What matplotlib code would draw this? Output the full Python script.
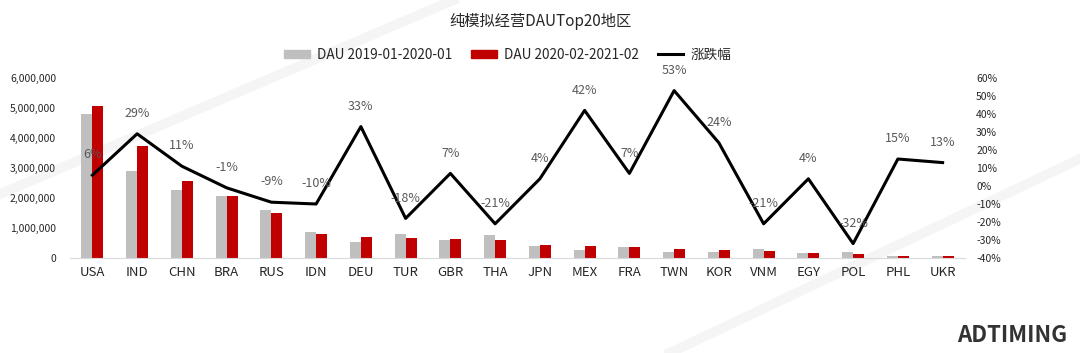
import matplotlib
matplotlib.use("Agg")
from matplotlib import pyplot as plt
from matplotlib.lines import Line2D
from matplotlib.patches import Patch
from matplotlib.ticker import FuncFormatter, MultipleLocator
import numpy as np

plt.rcParams['font.family'] = ['Noto Sans CJK SC', 'DejaVu Sans']

regions = ["USA", "IND", "CHN", "BRA", "RUS", "IDN", "DEU", "TUR", "GBR", "THA",
           "JPN", "MEX", "FRA", "TWN", "KOR", "VNM", "EGY", "POL", "PHL", "UKR"]
dau_prev = [4800000, 2890000, 2280000, 2080000, 1610000, 880000, 520000, 810000, 600000, 780000,
            400000, 270000, 360000, 200000, 200000, 300000, 170000, 190000, 70000, 70000]
dau_curr = [5080000, 3740000, 2560000, 2060000, 1490000, 800000, 710000, 670000, 630000, 610000,
            420000, 390000, 380000, 310000, 260000, 230000, 180000, 130000, 80000, 80000]
change = [6, 29, 11, -1, -9, -10, 33, -18, 7, -21, 4, 42, 7, 53, 24, -21, 4, -32, 15, 13]

label_prev = "DAU 2019-01-2020-01"
label_curr = "DAU 2020-02-2021-02"
label_change = "涨跌幅"
title = "纯模拟经营DAUTop20地区"

gray = "#bfbfbf"
red = "#c00000"
text_gray = "#595959"

fig = plt.figure(figsize=(10.8, 3.53), dpi=100)

# faint background strokes, like the watermark in the source slide
bg = fig.add_axes([0, 0, 1, 1], zorder=-5)
bg.axis("off")
bg.set_xlim(0, 1)
bg.set_ylim(0, 1)
bg.plot([0.0, 0.42], [0.45, 1.0], color="#f5f5f5", lw=7)
bg.plot([0.62, 1.0], [0.0, 0.55], color="#f5f5f5", lw=7)

ax = fig.add_axes([70 / 1080, 95 / 353, 895 / 1080, 180 / 353])

x = np.arange(len(regions))
w = 0.245
ax.bar(x - w / 2, dau_prev, width=w, color=gray, zorder=2)
ax.bar(x + w / 2, dau_curr, width=w, color=red, zorder=2)

ax.set_xlim(-0.5, len(regions) - 0.5)
ax.set_ylim(0, 6000000)
ax.yaxis.set_major_locator(MultipleLocator(1000000))
ax.yaxis.set_major_formatter(FuncFormatter(lambda v, p: f"{int(v):,}"))
ax.set_xticks(x)
ax.set_xticklabels(regions, fontsize=9.5, color="#262626")
ax.tick_params(axis="y", labelsize=7.5, colors="#262626", length=0, pad=10)
ax.tick_params(axis="x", length=0, pad=6)
for s in ["top", "right", "left"]:
    ax.spines[s].set_visible(False)
ax.spines["bottom"].set_color("#d9d9d9")
ax.patch.set_alpha(0)

ax2 = ax.twinx()
ax2.plot(x, change, color="black", lw=2.2, zorder=3)
ax2.set_ylim(-40, 60)
ax2.yaxis.set_major_locator(MultipleLocator(10))
ax2.yaxis.set_major_formatter(FuncFormatter(lambda v, p: f"{int(round(v))}%"))
ax2.tick_params(axis="y", labelsize=7.5, colors="#262626", length=0, pad=8)
for s in ["top", "right", "left", "bottom"]:
    ax2.spines[s].set_visible(False)

for xi, c in zip(x, change):
    ax2.annotate(f"{c}%", (xi, c), xytext=(0, 10), textcoords="offset points",
                 ha="center", va="bottom", fontsize=9, color=text_gray)

fig.text(0.5, 0.94, title, ha="center", va="center", fontsize=11, color="#262626")

handles = [Patch(color=gray), Patch(color=red), Line2D([], [], color="black", lw=2.2)]
fig.legend(handles, [label_prev, label_curr, label_change], loc="center",
           bbox_to_anchor=(0.47, 0.845), ncol=3, frameon=False, fontsize=9.8,
           handlelength=1.9, handleheight=0.6, columnspacing=1.4, handletextpad=0.5,
           labelcolor="#262626")

fig.text(0.937, 0.05, "ADTIMING", ha="center", va="center", fontsize=16,
         color="#333333", fontweight="bold", fontstyle="italic")

fig.savefig("out.png", dpi=100)
plt.close(fig)
